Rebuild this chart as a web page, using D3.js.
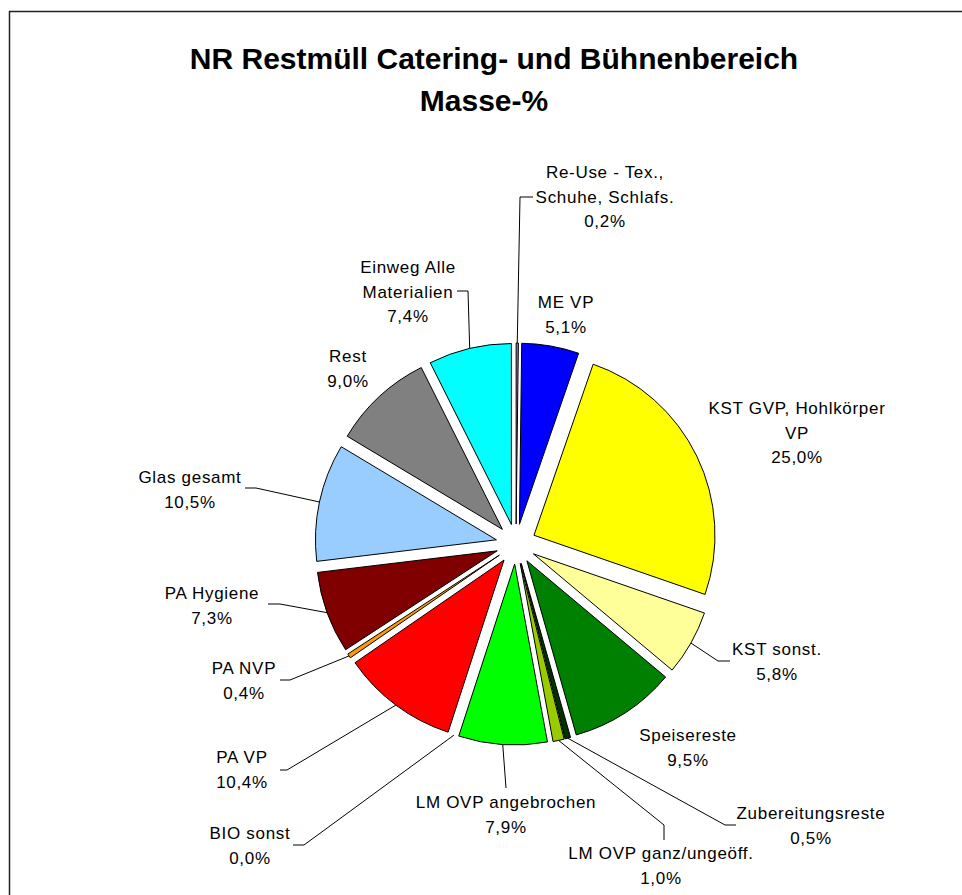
<!DOCTYPE html>
<meta charset="utf-8">
<style>
  body { margin: 0; background: #fff; }
  text { font-family: "Liberation Sans", Arial, sans-serif; fill: #000; }
</style>
<body>
<svg width="962" height="895"></svg>
<script src="https://cdn.jsdelivr.net/npm/d3@7"></script>
<script>

// data, clockwise from 12 o'clock
var categories = [
    "Re-Use - Tex.,\nSchuhe, Schlafs.",
    "ME VP",
    "KST GVP, Hohlkörper\nVP",
    "KST sonst.",
    "Speisereste",
    "Zubereitungsreste",
    "LM OVP ganz/ungeöff.",
    "LM OVP angebrochen",
    "BIO sonst",
    "PA VP",
    "PA NVP",
    "PA Hygiene",
    "Glas gesamt",
    "Rest",
    "Einweg Alle\nMaterialien"
];
var values = [0.2, 5.1, 25.0, 5.8, 9.5, 0.5, 1.0, 7.9, 0.0, 10.4, 0.4, 7.3, 10.5, 9.0, 7.4];
var colors = ["#8f7fb0", "#0000ff", "#ffff00", "#ffff99", "#008000", "#003300", "#99cc00",
              "#00ff00", "#993300", "#ff0000", "#ff9900", "#800000", "#99ccff", "#808080", "#00ffff"];
var title = ["NR Restmüll Catering- und Bühnenbereich", "Masse-%"];

// label placement (layout only)
var labelPos = [
    {x: 605, y: 172, lead: [[520, 197], [533, 197]]},
    {x: 566, y: 302},
    {x: 797, y: 408},
    {x: 777, y: 649, lead: [[718, 661], [730, 661]]},
    {x: 688, y: 735},
    {x: 811, y: 813, lead: [[725, 825], [736, 825]]},
    {x: 661, y: 853, lead: [[664, 825], [664, 840]]},
    {x: 506, y: 802, lead: [[506, 788]]},
    {x: 250, y: 833, lead: [[304, 845], [293, 845]]},
    {x: 242, y: 757, lead: [[287, 770], [280, 770]]},
    {x: 244, y: 668, lead: [[290, 680], [280, 680]]},
    {x: 212, y: 593, lead: [[280, 604], [268, 604]]},
    {x: 190, y: 477, lead: [[256, 488], [245, 488]]},
    {x: 348, y: 356},
    {x: 408, y: 267, lead: [[468, 291], [457, 291]]}
];

var svg = d3.select("svg");

var cx = 516, cy = 544, radius = 181, explode = 20, lineH = 24.5;

// frame
svg.append("path")
    .attr("d", "M9.5,900V11.5H970")
    .attr("fill", "none")
    .attr("stroke", "#222")
    .attr("stroke-width", 1.5);

// title
svg.selectAll(".title")
    .data(title)
    .enter().append("text")
    .attr("class", "title")
    .attr("x", function (d, i) { return i === 0 ? 494 : 484; })
    .attr("y", function (d, i) { return 58 + i * 42; })
    .attr("text-anchor", "middle")
    .attr("dominant-baseline", "central")
    .style("font-size", "30px")
    .style("font-weight", "bold")
    .text(function (d) { return d; });

var pie = d3.pie().sort(null).value(function (d) { return d; });
var arcs = pie(values);

var arc = d3.arc().innerRadius(0).outerRadius(radius);

function mid(d) { return (d.startAngle + d.endAngle) / 2; }
function offset(d) {
    var a = mid(d);
    return [explode * Math.sin(a), -explode * Math.cos(a)];
}

var g = svg.append("g")
    .attr("transform", "translate(" + cx + "," + cy + ")");

g.selectAll(".slice")
    .data(arcs.filter(function (d) { return d.value > 0; }))
    .enter().append("path")
    .attr("class", "slice")
    .attr("transform", function (d) {
        var o = offset(d);
        return "translate(" + o[0] + "," + o[1] + ")";
    })
    .attr("d", arc)
    .attr("fill", function (d) { return colors[d.index]; })
    .attr("stroke", "#000")
    .attr("stroke-width", 1);

// leader lines
arcs.forEach(function (d, i) {
    var p = labelPos[i];
    if (!p.lead) return;
    var a = mid(d), o = offset(d);
    var pts = [[cx + o[0] + radius * Math.sin(a), cy + o[1] - radius * Math.cos(a)]].concat(p.lead);
    svg.append("path")
        .attr("d", d3.line()(pts))
        .attr("fill", "none")
        .attr("stroke", "#000")
        .attr("stroke-width", 1);
});

// labels
arcs.forEach(function (d, i) {
    var p = labelPos[i];
    var lines = categories[i].split("\n");
    lines.push(values[i].toFixed(1).replace(".", ",") + "%");
    var t = svg.append("text")
        .attr("text-anchor", "middle")
        .attr("dominant-baseline", "central")
        .style("font-size", "17px")
        .style("letter-spacing", "0.7px");
    lines.forEach(function (s, k) {
        t.append("tspan")
            .attr("x", p.x)
            .attr("y", p.y + k * lineH)
            .text(s);
    });
});

</script>
</body>
